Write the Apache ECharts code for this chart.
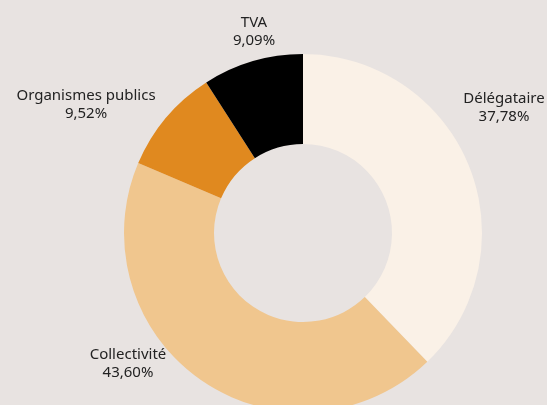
<!DOCTYPE html>
<html>
<head>
<meta charset="utf-8">
<script src="https://cdn.jsdelivr.net/npm/echarts@6/dist/echarts.min.js"></script>
<style>
  html, body { margin: 0; padding: 0; background: #e8e3e1; }
  #chart { width: 547px; height: 405px; }
</style>
</head>
<body>
<div id="chart"></div>
<script>
// parts, clockwise from the top
const categories = ['Délégataire', 'Collectivité', 'Organismes publics', 'TVA']
const shares = [37.78, 43.60, 9.52, 9.09]
const colors = ['#faf1e7', '#f0c68e', '#e0891f', '#000000']

// label block centres (placement only)
const labelPos = [[504, 108], [128, 364], [86, 105], [254, 32]]

const myChart = echarts.init(document.getElementById('chart'))

const data = categories.map((name, i) => ({
  name: name,
  value: shares[i],
  itemStyle: { color: colors[i] }
}))

let option = {
  backgroundColor: '#e8e3e1',
  animation: false,
  series: [
    {
      type: 'pie',
      center: [303, 233],
      radius: [89, 179],
      startAngle: 90,
      clockwise: true,
      data: data,
      label: {
        show: true,
        position: 'outside',
        fontFamily: 'Noto Sans',
        fontSize: 15,
        lineHeight: 18,
        color: '#222222',
        align: 'center',
        overflow: 'none',
        width: 200,
        formatter: function (p) {
          return p.name + '\n' + p.value.toFixed(2).replace('.', ',') + '%'
        }
      },
      labelLine: { show: false },
      labelLayout: function (params) {
        const pos = labelPos[params.dataIndex]
        return { x: pos[0], y: pos[1], align: 'center', verticalAlign: 'middle' }
      },
      emphasis: { disabled: true }
    }
  ]
}
option && myChart.setOption(option)
</script>
</body>
</html>
